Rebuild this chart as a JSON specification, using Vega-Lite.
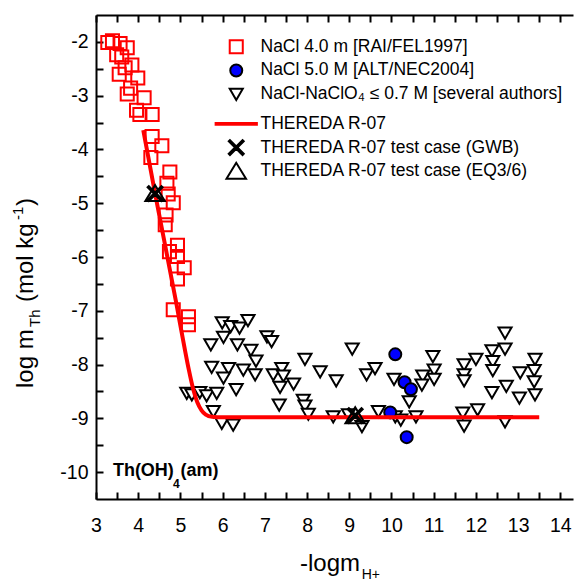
{
  "$schema": "https://vega.github.io/schema/vega-lite/v6.json",
  "width": 477,
  "height": 484,
  "autosize": {"type": "none"},
  "padding": {"left": 96, "top": 15, "right": 1, "bottom": 83},
  "background": "white",
  "config": {
    "view": {"stroke": null},
    "font": "Liberation Sans",
    "axis": {"domainColor": "black", "labelColor": "black", "labelFont": "Liberation Sans", "labelFontSize": 19.5, "domainWidth": 2, "tickColor": "black", "tickWidth": 2, "tickOpacity": 1, "gridColor": "black", "gridWidth": 2, "gridOpacity": 1, "labelFlush": false, "labelOverlap": false, "zindex": 1},
    "legend": {"labelFont": "Liberation Sans", "labelFontSize": 17.5, "labelColor": "black", "symbolSize": 225, "symbolStrokeWidth": 2, "rowPadding": -2.3, "labelOffset": 15.5, "padding": 0, "labelLimit": 600, "symbolOpacity": 1}
  },
  "datasets": {
    "pts": [
      {"series": "NaCl 4.0 m [RAI/FEL1997]", "x": 3.28, "y": -2.01},
      {"series": "NaCl 4.0 m [RAI/FEL1997]", "x": 3.39, "y": -1.98},
      {"series": "NaCl 4.0 m [RAI/FEL1997]", "x": 3.57, "y": -2.03},
      {"series": "NaCl 4.0 m [RAI/FEL1997]", "x": 3.74, "y": -2.11},
      {"series": "NaCl 4.0 m [RAI/FEL1997]", "x": 3.49, "y": -2.24},
      {"series": "NaCl 4.0 m [RAI/FEL1997]", "x": 3.61, "y": -2.28},
      {"series": "NaCl 4.0 m [RAI/FEL1997]", "x": 3.85, "y": -2.43},
      {"series": "NaCl 4.0 m [RAI/FEL1997]", "x": 3.69, "y": -2.48},
      {"series": "NaCl 4.0 m [RAI/FEL1997]", "x": 3.55, "y": -2.6},
      {"series": "NaCl 4.0 m [RAI/FEL1997]", "x": 3.99, "y": -2.67},
      {"series": "NaCl 4.0 m [RAI/FEL1997]", "x": 3.82, "y": -2.86},
      {"series": "NaCl 4.0 m [RAI/FEL1997]", "x": 3.74, "y": -2.97},
      {"series": "NaCl 4.0 m [RAI/FEL1997]", "x": 4.14, "y": -3.04},
      {"series": "NaCl 4.0 m [RAI/FEL1997]", "x": 3.96, "y": -3.27},
      {"series": "NaCl 4.0 m [RAI/FEL1997]", "x": 4.04, "y": -3.35},
      {"series": "NaCl 4.0 m [RAI/FEL1997]", "x": 4.33, "y": -3.35},
      {"series": "NaCl 4.0 m [RAI/FEL1997]", "x": 4.33, "y": -3.76},
      {"series": "NaCl 4.0 m [RAI/FEL1997]", "x": 4.56, "y": -3.93},
      {"series": "NaCl 4.0 m [RAI/FEL1997]", "x": 4.3, "y": -4.15},
      {"series": "NaCl 4.0 m [RAI/FEL1997]", "x": 4.75, "y": -4.42},
      {"series": "NaCl 4.0 m [RAI/FEL1997]", "x": 4.68, "y": -4.63},
      {"series": "NaCl 4.0 m [RAI/FEL1997]", "x": 4.71, "y": -4.83},
      {"series": "NaCl 4.0 m [RAI/FEL1997]", "x": 4.83, "y": -4.99},
      {"series": "NaCl 4.0 m [RAI/FEL1997]", "x": 4.66, "y": -5.22},
      {"series": "NaCl 4.0 m [RAI/FEL1997]", "x": 4.64, "y": -5.4},
      {"series": "NaCl 4.0 m [RAI/FEL1997]", "x": 4.93, "y": -5.78},
      {"series": "NaCl 4.0 m [RAI/FEL1997]", "x": 4.74, "y": -5.9},
      {"series": "NaCl 4.0 m [RAI/FEL1997]", "x": 4.93, "y": -5.99},
      {"series": "NaCl 4.0 m [RAI/FEL1997]", "x": 5.09, "y": -6.2},
      {"series": "NaCl 4.0 m [RAI/FEL1997]", "x": 4.93, "y": -6.41},
      {"series": "NaCl 4.0 m [RAI/FEL1997]", "x": 4.83, "y": -6.98},
      {"series": "NaCl 4.0 m [RAI/FEL1997]", "x": 5.19, "y": -7.11},
      {"series": "NaCl 4.0 m [RAI/FEL1997]", "x": 5.19, "y": -7.26},
      {"series": "NaCl-NaClO₄ ≤ 0.7 M [several authors]", "x": 5.99, "y": -7.22},
      {"series": "NaCl-NaClO₄ ≤ 0.7 M [several authors]", "x": 6.19, "y": -7.29},
      {"series": "NaCl-NaClO₄ ≤ 0.7 M [several authors]", "x": 6.4, "y": -7.32},
      {"series": "NaCl-NaClO₄ ≤ 0.7 M [several authors]", "x": 6.6, "y": -7.18},
      {"series": "NaCl-NaClO₄ ≤ 0.7 M [several authors]", "x": 6.02, "y": -7.49},
      {"series": "NaCl-NaClO₄ ≤ 0.7 M [several authors]", "x": 6.35, "y": -7.63},
      {"series": "NaCl-NaClO₄ ≤ 0.7 M [several authors]", "x": 5.72, "y": -7.63},
      {"series": "NaCl-NaClO₄ ≤ 0.7 M [several authors]", "x": 6.67, "y": -7.73},
      {"series": "NaCl-NaClO₄ ≤ 0.7 M [several authors]", "x": 7.05, "y": -7.48},
      {"series": "NaCl-NaClO₄ ≤ 0.7 M [several authors]", "x": 7.16, "y": -7.57},
      {"series": "NaCl-NaClO₄ ≤ 0.7 M [several authors]", "x": 6.79, "y": -7.93},
      {"series": "NaCl-NaClO₄ ≤ 0.7 M [several authors]", "x": 5.74, "y": -8.05},
      {"series": "NaCl-NaClO₄ ≤ 0.7 M [several authors]", "x": 6.14, "y": -8.07},
      {"series": "NaCl-NaClO₄ ≤ 0.7 M [several authors]", "x": 6.02, "y": -8.25},
      {"series": "NaCl-NaClO₄ ≤ 0.7 M [several authors]", "x": 6.49, "y": -8.1},
      {"series": "NaCl-NaClO₄ ≤ 0.7 M [several authors]", "x": 6.77, "y": -8.19},
      {"series": "NaCl-NaClO₄ ≤ 0.7 M [several authors]", "x": 7.2, "y": -8.19},
      {"series": "NaCl-NaClO₄ ≤ 0.7 M [several authors]", "x": 7.4, "y": -8.07},
      {"series": "NaCl-NaClO₄ ≤ 0.7 M [several authors]", "x": 7.44, "y": -8.21},
      {"series": "NaCl-NaClO₄ ≤ 0.7 M [several authors]", "x": 7.36, "y": -8.42},
      {"series": "NaCl-NaClO₄ ≤ 0.7 M [several authors]", "x": 7.68, "y": -8.36},
      {"series": "NaCl-NaClO₄ ≤ 0.7 M [several authors]", "x": 7.95, "y": -7.9},
      {"series": "NaCl-NaClO₄ ≤ 0.7 M [several authors]", "x": 8.31, "y": -8.13},
      {"series": "NaCl-NaClO₄ ≤ 0.7 M [several authors]", "x": 8.69, "y": -8.3},
      {"series": "NaCl-NaClO₄ ≤ 0.7 M [several authors]", "x": 9.07, "y": -7.71},
      {"series": "NaCl-NaClO₄ ≤ 0.7 M [several authors]", "x": 9.41, "y": -8.19},
      {"series": "NaCl-NaClO₄ ≤ 0.7 M [several authors]", "x": 9.61, "y": -8.07},
      {"series": "NaCl-NaClO₄ ≤ 0.7 M [several authors]", "x": 5.15, "y": -8.53},
      {"series": "NaCl-NaClO₄ ≤ 0.7 M [several authors]", "x": 5.27, "y": -8.56},
      {"series": "NaCl-NaClO₄ ≤ 0.7 M [several authors]", "x": 5.46, "y": -8.52},
      {"series": "NaCl-NaClO₄ ≤ 0.7 M [several authors]", "x": 5.62, "y": -8.58},
      {"series": "NaCl-NaClO₄ ≤ 0.7 M [several authors]", "x": 5.86, "y": -8.53},
      {"series": "NaCl-NaClO₄ ≤ 0.7 M [several authors]", "x": 6.32, "y": -8.46},
      {"series": "NaCl-NaClO₄ ≤ 0.7 M [several authors]", "x": 5.78, "y": -8.87},
      {"series": "NaCl-NaClO₄ ≤ 0.7 M [several authors]", "x": 5.98, "y": -9.09},
      {"series": "NaCl-NaClO₄ ≤ 0.7 M [several authors]", "x": 6.25, "y": -9.12},
      {"series": "NaCl-NaClO₄ ≤ 0.7 M [several authors]", "x": 7.34, "y": -8.75},
      {"series": "NaCl-NaClO₄ ≤ 0.7 M [several authors]", "x": 7.91, "y": -8.66},
      {"series": "NaCl-NaClO₄ ≤ 0.7 M [several authors]", "x": 7.95, "y": -8.77},
      {"series": "NaCl-NaClO₄ ≤ 0.7 M [several authors]", "x": 8.03, "y": -8.92},
      {"series": "NaCl-NaClO₄ ≤ 0.7 M [several authors]", "x": 8.62, "y": -8.97},
      {"series": "NaCl-NaClO₄ ≤ 0.7 M [several authors]", "x": 8.98, "y": -8.93},
      {"series": "NaCl-NaClO₄ ≤ 0.7 M [several authors]", "x": 9.3, "y": -9.15},
      {"series": "NaCl-NaClO₄ ≤ 0.7 M [several authors]", "x": 9.69, "y": -8.87},
      {"series": "NaCl-NaClO₄ ≤ 0.7 M [several authors]", "x": 10.06, "y": -8.27},
      {"series": "NaCl-NaClO₄ ≤ 0.7 M [several authors]", "x": 10.42, "y": -8.69},
      {"series": "NaCl-NaClO₄ ≤ 0.7 M [several authors]", "x": 10.74, "y": -8.21},
      {"series": "NaCl-NaClO₄ ≤ 0.7 M [several authors]", "x": 10.98, "y": -7.85},
      {"series": "NaCl-NaClO₄ ≤ 0.7 M [several authors]", "x": 11.01, "y": -8.1},
      {"series": "NaCl-NaClO₄ ≤ 0.7 M [several authors]", "x": 11.01, "y": -8.27},
      {"series": "NaCl-NaClO₄ ≤ 0.7 M [several authors]", "x": 10.72, "y": -8.38},
      {"series": "NaCl-NaClO₄ ≤ 0.7 M [several authors]", "x": 10.09, "y": -8.97},
      {"series": "NaCl-NaClO₄ ≤ 0.7 M [several authors]", "x": 10.22, "y": -9.03},
      {"series": "NaCl-NaClO₄ ≤ 0.7 M [several authors]", "x": 10.58, "y": -8.97},
      {"series": "NaCl-NaClO₄ ≤ 0.7 M [several authors]", "x": 11.72, "y": -8.0},
      {"series": "NaCl-NaClO₄ ≤ 0.7 M [several authors]", "x": 12.0, "y": -7.9},
      {"series": "NaCl-NaClO₄ ≤ 0.7 M [several authors]", "x": 11.72, "y": -8.19},
      {"series": "NaCl-NaClO₄ ≤ 0.7 M [several authors]", "x": 11.72, "y": -8.3},
      {"series": "NaCl-NaClO₄ ≤ 0.7 M [several authors]", "x": 11.69, "y": -8.9},
      {"series": "NaCl-NaClO₄ ≤ 0.7 M [several authors]", "x": 12.04, "y": -8.84},
      {"series": "NaCl-NaClO₄ ≤ 0.7 M [several authors]", "x": 11.72, "y": -9.14},
      {"series": "NaCl-NaClO₄ ≤ 0.7 M [several authors]", "x": 12.38, "y": -7.74},
      {"series": "NaCl-NaClO₄ ≤ 0.7 M [several authors]", "x": 12.4, "y": -7.94},
      {"series": "NaCl-NaClO₄ ≤ 0.7 M [several authors]", "x": 12.4, "y": -8.11},
      {"series": "NaCl-NaClO₄ ≤ 0.7 M [several authors]", "x": 12.69, "y": -7.41},
      {"series": "NaCl-NaClO₄ ≤ 0.7 M [several authors]", "x": 12.69, "y": -7.71},
      {"series": "NaCl-NaClO₄ ≤ 0.7 M [several authors]", "x": 12.72, "y": -8.4},
      {"series": "NaCl-NaClO₄ ≤ 0.7 M [several authors]", "x": 12.38, "y": -8.52},
      {"series": "NaCl-NaClO₄ ≤ 0.7 M [several authors]", "x": 12.69, "y": -9.06},
      {"series": "NaCl-NaClO₄ ≤ 0.7 M [several authors]", "x": 13.05, "y": -8.15},
      {"series": "NaCl-NaClO₄ ≤ 0.7 M [several authors]", "x": 13.03, "y": -8.62},
      {"series": "NaCl-NaClO₄ ≤ 0.7 M [several authors]", "x": 13.4, "y": -7.9},
      {"series": "NaCl-NaClO₄ ≤ 0.7 M [several authors]", "x": 13.38, "y": -8.11},
      {"series": "NaCl-NaClO₄ ≤ 0.7 M [several authors]", "x": 13.38, "y": -8.32},
      {"series": "NaCl-NaClO₄ ≤ 0.7 M [several authors]", "x": 13.4, "y": -8.56},
      {"series": "NaCl 5.0 M [ALT/NEC2004]", "x": 10.09, "y": -7.81},
      {"series": "NaCl 5.0 M [ALT/NEC2004]", "x": 10.31, "y": -8.33},
      {"series": "NaCl 5.0 M [ALT/NEC2004]", "x": 10.46, "y": -8.46},
      {"series": "NaCl 5.0 M [ALT/NEC2004]", "x": 9.97, "y": -8.89},
      {"series": "NaCl 5.0 M [ALT/NEC2004]", "x": 10.36, "y": -9.35},
      {"series": "THEREDA R-07 test case (GWB)", "x": 4.4, "y": -4.82},
      {"series": "THEREDA R-07 test case (GWB)", "x": 9.14, "y": -8.95},
      {"series": "THEREDA R-07 test case (EQ3/6)", "x": 4.4, "y": -4.82},
      {"series": "THEREDA R-07 test case (EQ3/6)", "x": 9.14, "y": -8.95}
    ],
    "model": [
      {"x": 4.12, "y": -3.64},
      {"x": 4.4, "y": -4.82},
      {"x": 4.9, "y": -6.85},
      {"x": 5.1, "y": -7.7},
      {"x": 5.2, "y": -8.1},
      {"x": 5.3, "y": -8.45},
      {"x": 5.4, "y": -8.7},
      {"x": 5.5, "y": -8.85},
      {"x": 5.6, "y": -8.93},
      {"x": 5.75, "y": -8.97},
      {"x": 6.0, "y": -8.98},
      {"x": 13.5, "y": -8.98}
    ],
    "one": [{}]
  },
  "layer": [
    {
      "data": {"name": "pts"},
      "transform": [{"filter": {"field": "series", "oneOf": ["NaCl 4.0 m [RAI/FEL1997]", "NaCl 5.0 M [ALT/NEC2004]", "NaCl-NaClO₄ ≤ 0.7 M [several authors]"]}}],
      "mark": {"type": "point", "size": 225, "strokeWidth": 2, "opacity": 1, "filled": true},
      "encoding": {
        "x": {"field": "x", "type": "quantitative", "scale": {"domain": [3, 14.3], "nice": false, "zero": false},
          "axis": {"orient": "bottom", "title": null, "values": [3, 3.5, 4, 4.5, 5, 5.5, 6, 6.5, 7, 7.5, 8, 8.5, 9, 9.5, 10, 10.5, 11, 11.5, 12, 12.5, 13, 13.5, 14], "ticks": true, "tickSize": -7, "grid": false, "labelPadding": 24, "labelExpr": "datum.value % 1 === 0 ? '' + datum.value : ''"}},
        "y": {"field": "y", "type": "quantitative", "scale": {"domain": [-10.5, -1.5], "nice": false, "zero": false},
          "axis": {"orient": "left", "title": null, "values": [-2, -2.5, -3, -3.5, -4, -4.5, -5, -5.5, -6, -6.5, -7, -7.5, -8, -8.5, -9, -9.5, -10], "ticks": true, "tickSize": -7, "grid": false, "labelPadding": 15, "labelExpr": "datum.value % 1 === 0 ? '' + datum.value : ''"}},
        "shape": {"field": "series", "type": "nominal",
          "scale": {"domain": ["NaCl 4.0 m [RAI/FEL1997]", "NaCl 5.0 M [ALT/NEC2004]", "NaCl-NaClO₄ ≤ 0.7 M [several authors]", "THEREDA R-07", "THEREDA R-07 test case (GWB)", "THEREDA R-07 test case (EQ3/6)"],
            "range": ["M0,-1.15M0,1.15M-0.87,-0.87H0.87V0.87H-0.87Z", "M0,-1.15M0,1.15M-0.8,0A0.8,0.8,0,1,1,0.8,0A0.8,0.8,0,1,1,-0.8,0Z", "M0,-1.15M0,1.15M-0.87,-0.72H0.87L0,0.78Z", "M0,-1.9M0,1.15M-2.75,-0.13H2.75V0.13H-2.75Z", "M0,-1.15M0,1.15M0,-0.16L0.84,-1L1,-0.84L0.16,0L1,0.84L0.84,1L0,0.16L-0.84,1L-1,0.84L-0.16,0L-1,-0.84L-0.84,-1Z", "M0,-1.15M0,1.15M0,-1.12L-1.3,1H1.3Z"]},
          "legend": {"title": null, "orient": "none", "legendX": 131.5, "legendY": 23}},
        "fill": {"field": "series", "type": "nominal",
          "scale": {"domain": ["NaCl 4.0 m [RAI/FEL1997]", "NaCl 5.0 M [ALT/NEC2004]", "NaCl-NaClO₄ ≤ 0.7 M [several authors]", "THEREDA R-07", "THEREDA R-07 test case (GWB)", "THEREDA R-07 test case (EQ3/6)"],
            "range": ["transparent", "#0000ff", "white", "#ff0000", "black", "transparent"]},
          "legend": {"title": null, "orient": "none", "legendX": 131.5, "legendY": 23}},
        "stroke": {"field": "series", "type": "nominal",
          "scale": {"domain": ["NaCl 4.0 m [RAI/FEL1997]", "NaCl 5.0 M [ALT/NEC2004]", "NaCl-NaClO₄ ≤ 0.7 M [several authors]", "THEREDA R-07", "THEREDA R-07 test case (GWB)", "THEREDA R-07 test case (EQ3/6)"],
            "range": ["#ff0000", "black", "black", "#ff0000", "black", "black"]},
          "legend": {"title": null, "orient": "none", "legendX": 131.5, "legendY": 23}}
      }
    },
    {
      "data": {"name": "model"},
      "mark": {"type": "line", "color": "#ff0000", "strokeWidth": 4, "interpolate": "monotone"},
      "encoding": {
        "x": {"field": "x", "type": "quantitative", "axis": {"orient": "top", "title": null, "values": [3, 3.5, 4, 4.5, 5, 5.5, 6, 6.5, 7, 7.5, 8, 8.5, 9, 9.5, 10, 10.5, 11, 11.5, 12, 12.5, 13, 13.5, 14], "labels": false, "domain": true, "ticks": true, "tickSize": -7, "grid": false}},
        "y": {"field": "y", "type": "quantitative", "axis": null}
      }
    },
    {
      "data": {"name": "pts"},
      "transform": [{"filter": {"field": "series", "oneOf": ["THEREDA R-07 test case (GWB)", "THEREDA R-07 test case (EQ3/6)"]}}],
      "mark": {"type": "point", "size": 225, "strokeWidth": 2, "opacity": 1, "filled": true},
      "encoding": {
        "x": {"field": "x", "type": "quantitative", "axis": null},
        "y": {"field": "y", "type": "quantitative", "axis": null},
        "shape": {"field": "series", "type": "nominal", "legend": null},
        "fill": {"field": "series", "type": "nominal", "legend": null},
        "stroke": {"field": "series", "type": "nominal", "legend": null}
      }
    },
    {
      "data": {"name": "one"},
      "mark": {"type": "text", "text": "-logm", "font": "Liberation Sans", "fontSize": 24, "align": "left", "baseline": "alphabetic", "color": "black"},
      "encoding": {
        "x": {"datum": 7.833, "type": "quantitative", "axis": null},
        "y": {"datum": -11.838, "type": "quantitative", "axis": null}
      }
    },
    {
      "data": {"name": "one"},
      "mark": {"type": "text", "text": "H+", "font": "Liberation Sans", "fontSize": 14, "align": "left", "baseline": "alphabetic", "color": "black"},
      "encoding": {
        "x": {"datum": 9.295, "type": "quantitative", "axis": null},
        "y": {"datum": -11.987, "type": "quantitative", "axis": null}
      }
    },
    {
      "data": {"name": "one"},
      "mark": {"type": "text", "text": "log m", "font": "Liberation Sans", "fontSize": 24, "align": "left", "baseline": "alphabetic", "angle": 270, "color": "black"},
      "encoding": {
        "x": {"datum": 1.507, "type": "quantitative", "axis": null},
        "y": {"datum": -8.436, "type": "quantitative", "axis": null}
      }
    },
    {
      "data": {"name": "one"},
      "mark": {"type": "text", "text": "Th", "font": "Liberation Sans", "fontSize": 15, "align": "left", "baseline": "alphabetic", "angle": 270, "color": "black"},
      "encoding": {
        "x": {"datum": 1.673, "type": "quantitative", "axis": null},
        "y": {"datum": -7.301, "type": "quantitative", "axis": null}
      }
    },
    {
      "data": {"name": "one"},
      "mark": {"type": "text", "text": "(mol kg", "font": "Liberation Sans", "fontSize": 24, "align": "left", "baseline": "alphabetic", "angle": 270, "color": "black"},
      "encoding": {
        "x": {"datum": 1.507, "type": "quantitative", "axis": null},
        "y": {"datum": -6.837, "type": "quantitative", "axis": null}
      }
    },
    {
      "data": {"name": "one"},
      "mark": {"type": "text", "text": "-1", "font": "Liberation Sans", "fontSize": 15, "align": "left", "baseline": "alphabetic", "angle": 270, "color": "black"},
      "encoding": {
        "x": {"datum": 1.271, "type": "quantitative", "axis": null},
        "y": {"datum": -5.312, "type": "quantitative", "axis": null}
      }
    },
    {
      "data": {"name": "one"},
      "mark": {"type": "text", "text": ")", "font": "Liberation Sans", "fontSize": 24, "align": "left", "baseline": "alphabetic", "angle": 270, "color": "black"},
      "encoding": {
        "x": {"datum": 1.507, "type": "quantitative", "axis": null},
        "y": {"datum": -5.052, "type": "quantitative", "axis": null}
      }
    },
    {
      "data": {"name": "one"},
      "mark": {"type": "text", "text": "Th(OH)", "font": "Liberation Sans", "fontSize": 18, "fontWeight": "bold", "align": "left", "baseline": "alphabetic", "color": "black"},
      "encoding": {
        "x": {"datum": 3.4, "type": "quantitative", "axis": null},
        "y": {"datum": -10.07, "type": "quantitative", "axis": null}
      }
    },
    {
      "data": {"name": "one"},
      "mark": {"type": "text", "text": "4", "font": "Liberation Sans", "fontSize": 12, "fontWeight": "bold", "align": "left", "baseline": "alphabetic", "color": "black"},
      "encoding": {
        "x": {"datum": 4.825, "type": "quantitative", "axis": null},
        "y": {"datum": -10.29, "type": "quantitative", "axis": null}
      }
    },
    {
      "data": {"name": "one"},
      "mark": {"type": "text", "text": "(am)", "font": "Liberation Sans", "fontSize": 18, "fontWeight": "bold", "align": "left", "baseline": "alphabetic", "color": "black"},
      "encoding": {
        "x": {"datum": 5.0, "type": "quantitative", "axis": null},
        "y": {"datum": -10.07, "type": "quantitative", "axis": null}
      }
    }
  ],
  "resolve": {"axis": {"x": "independent", "y": "independent"}}
}
